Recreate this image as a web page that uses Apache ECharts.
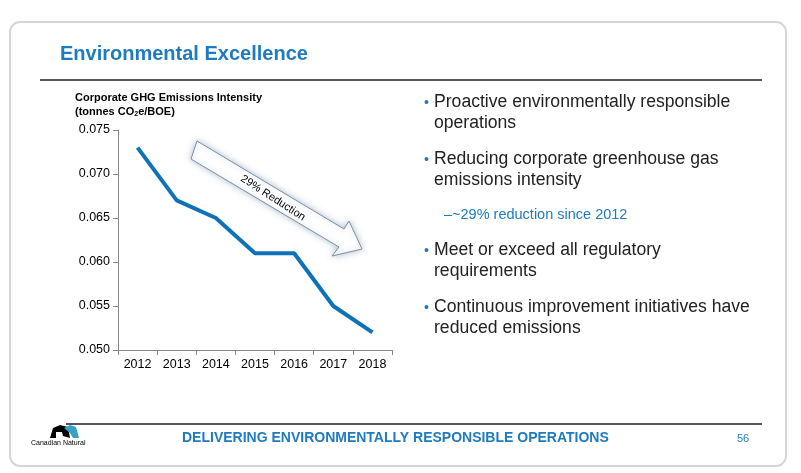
<!DOCTYPE html>
<html><head><meta charset="utf-8">
<script src="https://cdn.jsdelivr.net/npm/echarts@6/dist/echarts.min.js"></script>
<style>html,body{margin:0;padding:0;background:#fff}#c{width:801px;height:473px}</style>
</head><body><div id="c"></div>
<script>
const years = ['2012','2013','2014','2015','2016','2017','2018'];
const intensity = [0.073, 0.067, 0.065, 0.061, 0.061, 0.055, 0.052];
const yTicks = [0.050, 0.055, 0.060, 0.065, 0.070, 0.075];
const bullets = [
  ['Proactive environmentally responsible', 'operations'],
  ['Reducing corporate greenhouse gas', 'emissions intensity'],
  ['Meet or exceed all regulatory', 'requirements'],
  ['Continuous improvement initiatives have', 'reduced emissions']
];
const F = '"Liberation Sans", Arial, sans-serif';
const blue = '#1F7BC1';
const chart = echarts.init(document.getElementById('c'), null, {renderer:'canvas'});
const g = [];
g.push({type:'rect', shape:{x:10,y:22,width:776,height:444,r:10}, style:{fill:'#fff',stroke:'#d6d6d6',lineWidth:2}, z:-1});
g.push({type:'text', left:60, top:44, style:{text:'Environmental Excellence', font:'bold 20px '+F, fill:blue}});
g.push({type:'line', shape:{x1:40,y1:80,x2:762,y2:80}, style:{stroke:'#555',lineWidth:2}});
g.push({type:'line', shape:{x1:66,y1:424,x2:762,y2:424}, style:{stroke:'#555',lineWidth:2}});
g.push({type:'text', left:182, top:431, style:{text:'DELIVERING ENVIRONMENTALLY RESPONSIBLE OPERATIONS', font:'bold 14px '+F, fill:blue}});
g.push({type:'text', left:737, top:433, style:{text:'56', font:'11px '+F, fill:blue}});
g.push({type:'text', left:31, top:440, style:{text:'Canadian Natural', font:'7px '+F, fill:'#000'}});
g.push({type:'polygon', shape:{points:[[50,438],[53,428],[60,425],[68,427],[70,438],[63,436],[62,432],[56,432],[56,438]]}, style:{fill:'#000'}});
g.push({type:'polygon', shape:{points:[[64,428],[70,425],[76,427],[79,438],[73,438],[70,433]]}, style:{fill:'#3aa0c8'}});
g.push({type:'text', left:75, top:92, style:{text:'Corporate GHG Emissions Intensity', font:'bold 11px '+F, fill:'#000'}});
g.push({type:'text', left:75, top:106, style:{rich:{a:{font:'bold 11px '+F,fill:'#000'},s:{font:'bold 7px '+F,fill:'#000',verticalAlign:'bottom',padding:[6,0,0,0]}}, text:'{a|(tonnes CO}{s|2}{a|e/BOE)}'}});
// arrow
g.push({type:'polygon', shape:{points:[[197,141],[344,229],[349,221],[362,249],[332,256],[339,247],[191,159]]}, style:{fill:'#fff',stroke:'#7f8fa0',lineWidth:1,shadowBlur:6,shadowColor:'rgba(100,130,170,0.5)'}});
g.push({type:'text', x:273, y:198, rotation:-Math.atan2(107,165), style:{text:'29% Reduction', font:'11px '+F, fill:'#000', align:'center', verticalAlign:'middle'}});
let y = 92;
bullets.forEach((b,i)=>{
  g.push({type:'text', left:424, top:y+4, style:{text:'•', font:'14px '+F, fill:blue}});
  g.push({type:'text', left:434, top:y, style:{text:b[0]+'\n'+b[1], font:'17.6px '+F, fill:'#222', lineHeight:21}});
  y += 57;
  if(i===1){
    g.push({type:'text', left:444, top:207, style:{text:'–~29% reduction since 2012', font:'14.5px '+F, fill:blue}});
    y += 34;
  }
});
chart.setOption({
  animation:false,
  grid:{left:118, right:409, top:130, bottom:123},
  xAxis:{type:'category', data:years, boundaryGap:true,
    axisLine:{lineStyle:{color:'#888'}}, axisTick:{show:true,lineStyle:{color:'#888'}},
    axisLabel:{color:'#000', fontSize:12.5, fontFamily:F, margin:8}},
  yAxis:{type:'value', min:0.05, max:0.075, interval:0.005,
    axisLine:{show:true,lineStyle:{color:'#888'}}, axisTick:{show:true,lineStyle:{color:'#888'}},
    splitLine:{show:false},
    axisLabel:{color:'#000', fontSize:12.5, fontFamily:F, formatter:v=>v.toFixed(3)}},
  series:[{type:'line', data:intensity, symbol:'none', lineStyle:{color:'#0E72B8', width:4}}],
  graphic:g
});
</script></body></html>
